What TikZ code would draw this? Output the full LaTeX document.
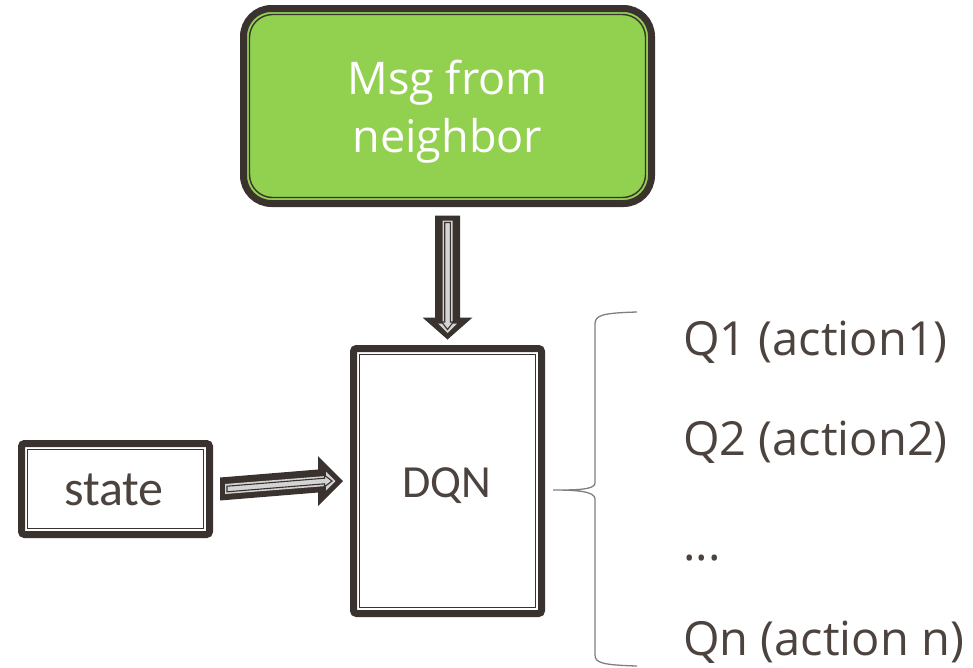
\documentclass[tikz,border=0pt]{standalone}
\usepackage{fontspec}
\setmainfont{Open Sans}
\newfontfamily\boxfont{Carlito}
\usetikzlibrary{calc}

\definecolor{ink}{HTML}{3A322E}
\definecolor{txt}{HTML}{4C433E}
\definecolor{leaf}{HTML}{92D050}
\definecolor{bracegray}{HTML}{808080}
\definecolor{arrowlight}{HTML}{D4D4D4}

\tikzset{
  framed/.style={draw=ink, line width=7pt, outer sep=0pt, inner sep=0pt},
  innerline/.style={draw=ink, line width=1.4pt},
  arrowbody/.style={fill=ink},
  arrowcore/.style={fill=arrowlight},
  arrowseam/.style={draw=ink, fill=arrowlight, line width=1.1pt, line join=miter},
  boxtext/.style={anchor=base, text=txt, inner sep=0pt},
  qlabel/.style={anchor=base west, text=txt, font=\fontsize{47}{56}\selectfont, inner sep=0pt},
}

% vertical block arrow from #1 down to the tip #2
\newcommand{\blockarrowv}[2]{%
  \path[arrowbody] ($(#1)+(-12.5,0)$) -- ($(#1)+(12.5,0)$) -- ($(#2)+(12.5,-22)$)
    -- ($(#2)+(25,-22)$) -- (#2) -- ($(#2)+(-25,-22)$) -- ($(#2)+(-12.5,-22)$) -- cycle;
  \path[arrowcore] ($(#1)+(-5,5)$) -- ($(#1)+(5,5)$) -- ($(#2)+(5,-16)$)
    -- ($(#2)+(9.5,-16)$) -- ($(#2)+(0,-6.5)$) -- ($(#2)+(-9.5,-16)$) -- ($(#2)+(-5,-16)$) -- cycle;
  \path[arrowseam] ($(#1)+(-2.8,7)$) -- ($(#1)+(2.8,7)$) -- ($(#2)+(2.8,-17.5)$)
    -- ($(#2)+(5.8,-17.5)$) -- ($(#2)+(0,-10)$) -- ($(#2)+(-5.8,-17.5)$) -- ($(#2)+(-2.8,-17.5)$) -- cycle;
}
% horizontal block arrow from #1 right to the tip #2
\newcommand{\blockarrowh}[2]{%
  \path[arrowbody] ($(#1)+(0,-11.5)$) -- ($(#1)+(0,11.5)$) -- ($(#2)+(-25,11.5)$)
    -- ($(#2)+(-25,25)$) -- (#2) -- ($(#2)+(-25,-25)$) -- ($(#2)+(-25,-11.5)$) -- cycle;
  \path[arrowcore] ($(#1)+(5,-5)$) -- ($(#1)+(5,5)$) -- ($(#2)+(-17,5)$)
    -- ($(#2)+(-17,9.5)$) -- ($(#2)+(-7.5,0)$) -- ($(#2)+(-17,-9.5)$) -- ($(#2)+(-17,-5)$) -- cycle;
  \path[arrowseam] ($(#1)+(7,-2.8)$) -- ($(#1)+(7,2.8)$) -- ($(#2)+(-18.5,2.8)$)
    -- ($(#2)+(-18.5,5.8)$) -- ($(#2)+(-11,0)$) -- ($(#2)+(-18.5,-5.8)$) -- ($(#2)+(-18.5,-2.8)$) -- cycle;
}

\begin{document}
\begin{tikzpicture}[x=1pt,y=-1pt]
\useasboundingbox (0,0) rectangle (973,667);

% message box
\node[framed, fill=leaf, rounded corners=28pt, minimum width=408pt, minimum height=195pt]
  (msg) at (447.5,106) {};
\draw[innerline, rounded corners=23pt]
  ($(msg.north west)+(6,6)$) rectangle ($(msg.south east)+(-6,-6)$);
\node[text=white, align=center, font=\fontsize{45}{58}\selectfont] at (447.5,112)
  {Msg from\\neighbor};

% state box
\node[framed, rounded corners=3pt, minimum width=188pt, minimum height=91pt]
  (state) at (115.5,489) {};
\draw[innerline]
  ($(state.north west)+(6,6)$) rectangle ($(state.south east)+(-6,-6)$);
\node[boxtext, font=\boxfont\fontsize{50}{60}\selectfont] at (114,505) {state};

% DQN box
\node[framed, rounded corners=3pt, minimum width=188pt, minimum height=265pt]
  (dqn) at (447.5,481) {};
\draw[innerline]
  ($(dqn.north west)+(6,6)$) rectangle ($(dqn.south east)+(-6,-6)$);
\node[boxtext, font=\boxfont\fontsize{46}{55}\selectfont] at (446.5,497) {DQN};

% connectors
\coordinate (m1) at ($(msg.south)+(0,12)$);
\coordinate (m2) at ($(dqn.north)+(0,-9)$);
\blockarrowv{m1}{m2}
\coordinate (s1) at ($(state.east)+(10.5,0)$);
\coordinate (s2) at ($(dqn.west)+(-10.5,0)$);
\blockarrowh{s1}{s2}

% brace
\coordinate (bt) at ($(dqn.east)+(11.5,9)$);
\draw[bracegray, line width=1.3pt]
  (637,312) .. controls (603,313) and (595,315) .. (595,324)
  -- (595,483) .. controls (595,490) and (575,490) .. (bt)
  .. controls (575,490) and (595,491) .. (595,499)
  -- (595,655) .. controls (595,663) and (603,665) .. (637,666);

% outputs
\node[qlabel] (q1) at (683,355) {Q1 (action1)};
\node[qlabel] (q2) at (683,455) {Q2 (action2)};
\node[qlabel] (qd) at (683,560) {...};
\node[qlabel] (qn) at (683,655) {Qn (action n)};
\end{tikzpicture}
\end{document}
